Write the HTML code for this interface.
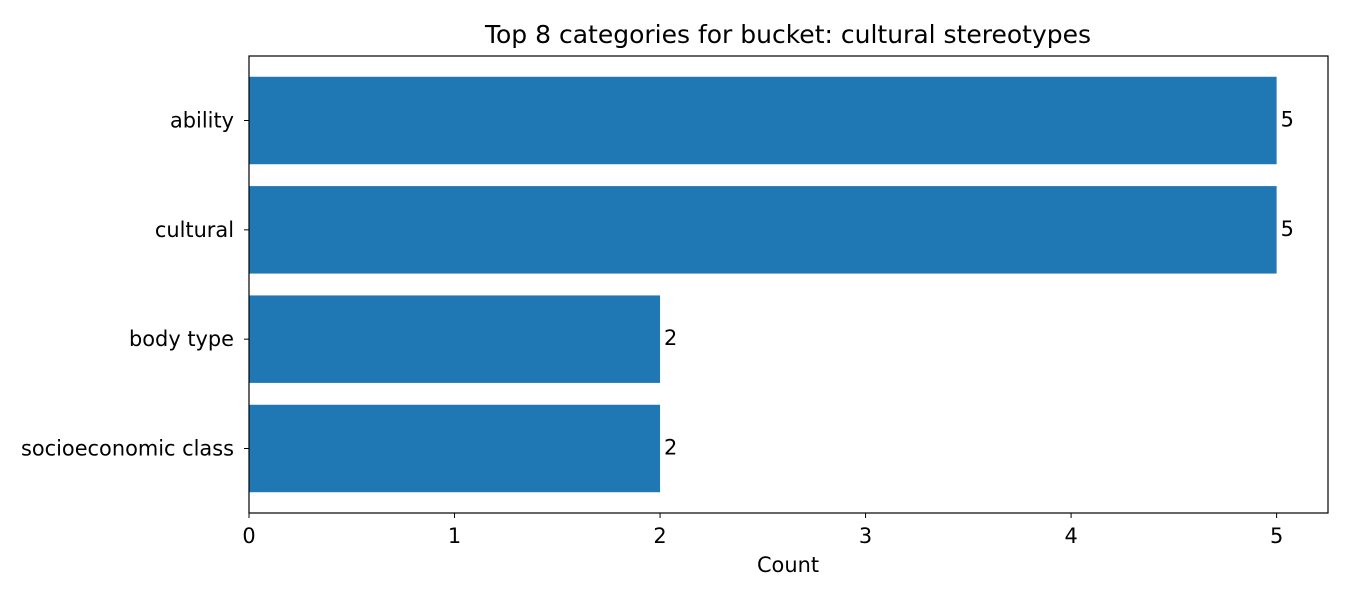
<!DOCTYPE html>
<html><head><meta charset="utf-8"><style>
html,body{margin:0;padding:0;background:#fff;}
svg text{font-family:"DejaVu Sans","Liberation Sans",sans-serif;fill:#000;}
</style></head><body>
<svg id="chart" width="1350" height="600" xmlns="http://www.w3.org/2000/svg">
<text x="788" y="43" font-size="25" text-anchor="middle">Top 8 categories for bucket: cultural stereotypes</text>
<g id="bars"></g>
<g id="xticks"></g>
<g id="yticks"></g>
<rect x="249" y="56" width="1079" height="457" fill="none" stroke="#000" stroke-width="1.2"/>
<text x="788" y="572" font-size="20.9" text-anchor="middle">Count</text>
</svg>
<script>
const categories = ["ability","cultural","body type","socioeconomic class"];
const counts = [5,5,2,2];
const xTickLabels = ["0","1","2","3","4","5"];
const xTickValues = [0,1,2,3,4,5];

const L=249,R=1328,T=56,B=513;
const FS=20.9;
const xMax=Math.max(...counts)*1.05;
const xs=v=>L+(v/xMax)*(R-L);
const n=categories.length;
const yMin=-0.4-0.05*(n-1+0.8), yMax=(n-1)+0.4+0.05*(n-1+0.8);
const ys=v=>T+(v-yMin)/(yMax-yMin)*(B-T);
const NS="http://www.w3.org/2000/svg";
const mk=(t,a,p)=>{const e=document.createElementNS(NS,t);for(const k in a)e.setAttribute(k,a[k]);p.appendChild(e);return e;};
const bars=document.getElementById('bars'),xt=document.getElementById('xticks'),yt=document.getElementById('yticks');
categories.forEach((c,i)=>{
  const y0=ys(i-0.4),y1=ys(i+0.4);
  const r=mk('rect',{x:xs(0),y:y0,width:xs(counts[i])-xs(0),height:y1-y0,fill:'#1f77b4'},bars);
  
  
  const v=mk('text',{x:xs(counts[i])+4,y:ys(i)+6,'font-size':FS},bars);
  v.textContent=counts[i];
  
  
  const tk=mk('line',{x1:L-5,x2:L,y1:ys(i),y2:ys(i),stroke:'#000','stroke-width':1},yt);
  
  
  const tl=mk('text',{x:L-15,y:ys(i)+7,'font-size':FS,'text-anchor':'end'},yt);
  tl.textContent=c;
  
  
});
xTickValues.forEach((v,i)=>{
  const tk=mk('line',{x1:xs(v),x2:xs(v),y1:B,y2:B+5,stroke:'#000','stroke-width':1},xt);
  
  
  const tl=mk('text',{x:xs(v),y:B+30,'font-size':FS,'text-anchor':'middle'},xt);
  tl.textContent=xTickLabels[i];
  
  
});
</script>
</body></html>
